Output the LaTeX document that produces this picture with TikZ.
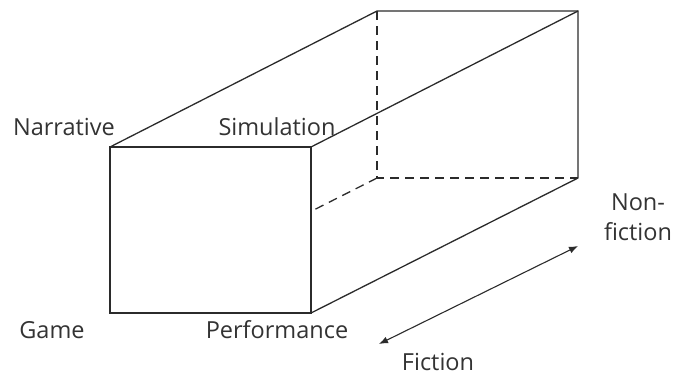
\documentclass[tikz,border=0pt]{standalone}
\usepackage{fontspec}
\setmainfont{Open Sans}
\usetikzlibrary{arrows.meta}
\definecolor{ink}{HTML}{2B2B2B}
\definecolor{txt}{HTML}{333333}
\begin{document}
\begin{tikzpicture}[x=1pt,y=-1pt,
  edge/.style={draw=ink,line width=1.3pt,line join=miter},
  hidden/.style={draw=ink,line width=1.3pt,dash pattern=on 9pt off 6pt},
  axis/.style={draw=ink,line width=1.1pt,{Latex[length=9pt,width=7pt]}-{Latex[length=9pt,width=7pt]}},
  lbl/.style={text=txt,font=\fontsize{23.5}{30}\selectfont,inner sep=0pt,anchor=base}]
\useasboundingbox (0,0) rectangle (679,376);
% front face corners
\coordinate (F1) at (110,147);
\coordinate (F2) at (311,147);
\coordinate (F3) at (311,313);
\coordinate (F4) at (110,313);
% back face corners
\coordinate (B1) at (377,11);
\coordinate (B2) at (578,11);
\coordinate (B3) at (578,178);
\coordinate (B4) at (377,178);
% visible edges
\path[edge] (F1) -- (F2) -- (F3) -- (F4) -- cycle;
\path[edge] (F1) -- (B1) -- (B2) -- (B3) -- (F3);
\path[edge] (F2) -- (B2);
% hidden edges
\coordinate (H) at (intersection of B4--F4 and F2--F3);
\path[hidden] (B1) -- (B4) -- (B3);
\path[hidden] (B4) -- (H);
% corner labels
\node[lbl] (narr) at (64,135) {Narrative};
\node[lbl] (sim) at (277,135) {Simulation};
\node[lbl] (game) at (52,338) {Game};
\node[lbl] (perf) at (277,338) {Performance};
% fiction axis
\coordinate (fic) at (379,344);
\coordinate (nonfic) at (578,246);
\path[axis] (fic) -- (nonfic);
\node[lbl] (fiction) at (438,370) {Fiction};
\node[lbl,align=center] (nonfiction) at (638,240) {Non-\\fiction};
\end{tikzpicture}
\end{document}
